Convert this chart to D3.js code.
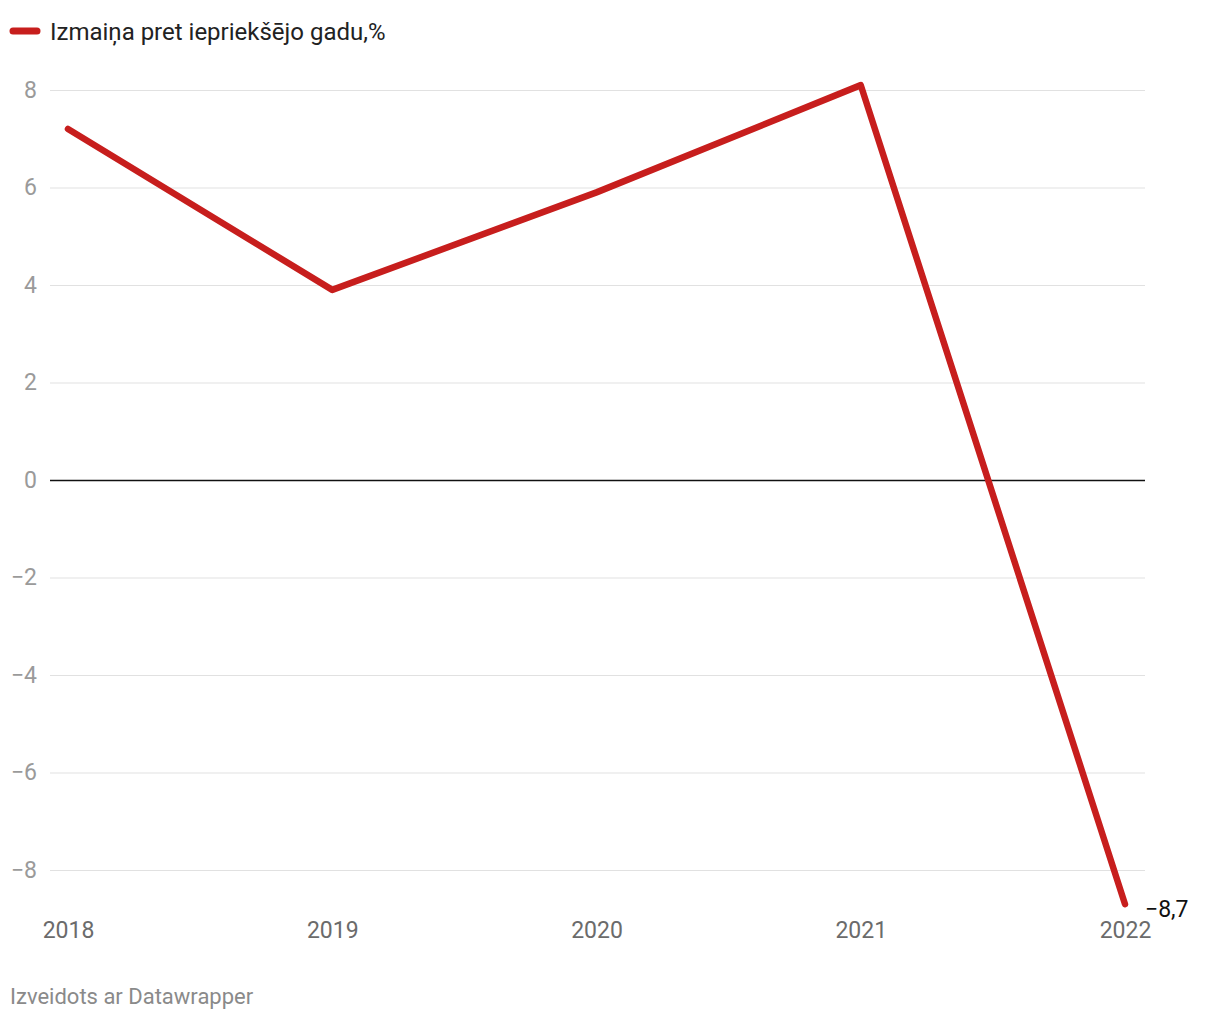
<!DOCTYPE html>
<html>
<head>
<meta charset="utf-8">
<script src="https://cdn.jsdelivr.net/npm/d3@7"></script>
<style>
  body { margin: 0; background: #fff; font-family: Roboto, sans-serif; }
</style>
</head>
<body>
<svg id="chart"></svg>
<script>
let years = [2018, 2019, 2020, 2021, 2022];
let values = [7.2, 3.9, 5.9, 8.1, -8.7];
let yTicks = [-8, -6, -4, -2, 0, 2, 4, 6, 8];
let seriesName = "Izmaiņa pret iepriekšējo gadu,%";
let lastLabel = "−8,7";
let credit = "Izveidots ar Datawrapper";

let width = 1220;
let height = 1020;
let lineColor = "#c71e1d";

let svg = d3.select("#chart")
  .attr("width", width)
  .attr("height", height);

let xScale = d3.scalePoint()
  .domain(years)
  .range([68, 1125]);

let yScale = d3.scaleLinear()
  .domain([-8, 8])
  .range([870, 90]);

// legend
svg.append("line")
  .attr("x1", 13).attr("x2", 37)
  .attr("y1", 31).attr("y2", 31)
  .attr("stroke", lineColor)
  .attr("stroke-width", 7)
  .attr("stroke-linecap", "round");

svg.append("text")
  .attr("x", 50).attr("y", 40)
  .attr("font-size", 24)
  .attr("fill", "#222")
  .text(seriesName);

// y grid
let yAxis = d3.axisLeft(yScale)
  .tickValues(yTicks)
  .tickSize(-(1145 - 50))
  .tickFormat(d => d < 0 ? "−" + Math.abs(d) : d);

let gy = svg.append("g")
  .attr("transform", "translate(50,0)")
  .call(yAxis);
gy.select(".domain").remove();
gy.selectAll(".tick line")
  .attr("stroke", d => d === 0 ? "#111" : "#e1e1e1")
  .attr("stroke-width", d => d === 0 ? 1.6 : 1.2);
gy.selectAll(".tick text")
  .attr("x", -13)
  .attr("font-family", "Roboto, sans-serif")
  .attr("font-size", 23)
  .attr("fill", "#9a9a9a");

// x axis labels
let xAxis = d3.axisBottom(xScale)
  .tickSize(0)
  .tickFormat(d3.format("d"));

let gx = svg.append("g")
  .attr("transform", "translate(0,919)")
  .call(xAxis);
gx.select(".domain").remove();
gx.selectAll(".tick text")
  .attr("font-family", "Roboto, sans-serif")
  .attr("font-size", 23)
  .attr("fill", "#6b6b6b");

// line
let line = d3.line()
  .x((d, i) => xScale(years[i]))
  .y(d => yScale(d));

svg.append("path")
  .datum(values)
  .attr("d", line)
  .attr("fill", "none")
  .attr("stroke", lineColor)
  .attr("stroke-width", 6.5)
  .attr("stroke-linecap", "round")
  .attr("stroke-linejoin", "round");

// end label
svg.append("text")
  .attr("x", xScale(years[years.length - 1]) + 20)
  .attr("y", yScale(values[values.length - 1]) + 13)
  .attr("font-size", 23)
  .attr("fill", "#111")
  .text(lastLabel);

// footer
svg.append("text")
  .attr("x", 10).attr("y", 1004)
  .attr("font-size", 22)
  .attr("fill", "#8a8a8a")
  .text(credit);
</script>
</body>
</html>
